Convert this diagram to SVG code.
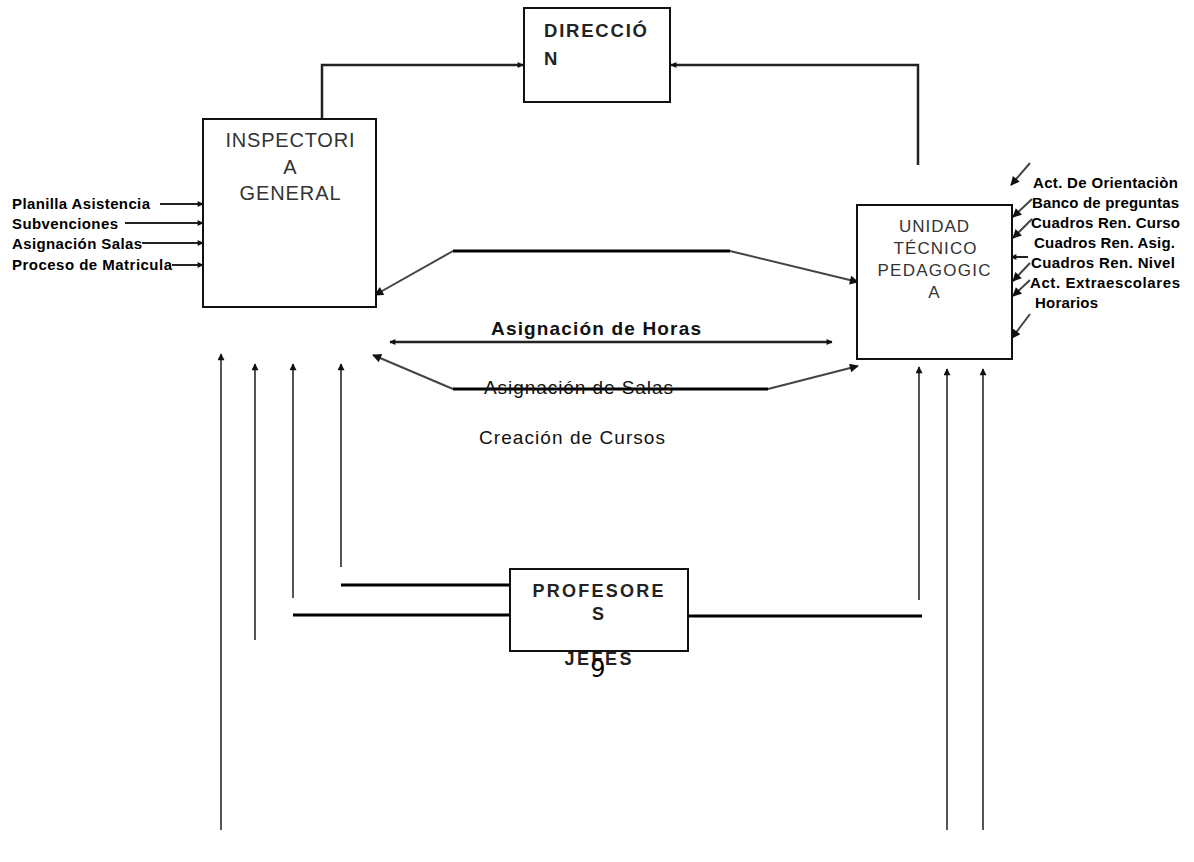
<svg xmlns="http://www.w3.org/2000/svg" width="1194" height="862" viewBox="0 0 1194 862">
<style>
.box{fill:#fff;stroke:#111;stroke-width:2}
.lbl{font-family:"Liberation Sans",Arial,sans-serif;font-size:15px;font-weight:bold;fill:#000}
.nt{font-family:"Liberation Sans",Arial,sans-serif;fill:#333;text-anchor:middle}
.bt{font-family:"Liberation Sans",Arial,sans-serif;font-weight:bold;fill:#222}
.mid{font-family:"Liberation Sans",Arial,sans-serif;font-size:19px;fill:#111}
.thk{fill:none;stroke:#000;stroke-width:3}
.dg{fill:none;stroke:#444;stroke-width:2}
.top{fill:none;stroke:#222;stroke-width:2.5}
.vt{fill:none;stroke:#555;stroke-width:2}
.sm{fill:none;stroke:#222;stroke-width:2}
</style>
<defs>
<marker id="ah" viewBox="0 0 10 10" refX="9" refY="5" markerWidth="11" markerHeight="9" markerUnits="userSpaceOnUse" orient="auto"><path d="M0,0 L10,5 L0,10 z" fill="#111"/></marker>
<marker id="sa" viewBox="0 0 10 10" refX="9" refY="5" markerWidth="8" markerHeight="6" markerUnits="userSpaceOnUse" orient="auto"><path d="M0,0 L10,5 L0,10 z" fill="#111"/></marker>
<marker id="va" viewBox="0 0 10 10" refX="9" refY="5" markerWidth="11" markerHeight="7" markerUnits="userSpaceOnUse" orient="auto"><path d="M0,0 L10,5 L0,10 z" fill="#111"/></marker>
</defs>

<g id="connectors">
<path class="top" d="M322,118 V65 H523" marker-end="url(#sa)"/>
<path class="top" d="M918,165 V65 H671" marker-end="url(#sa)"/>
<path class="sm" d="M160,204 H203" marker-end="url(#sa)"/>
<path class="sm" d="M125,223 H203" marker-end="url(#sa)"/>
<path class="sm" d="M142,243 H203" marker-end="url(#sa)"/>
<path class="sm" d="M172,265 H203" marker-end="url(#sa)"/>
<path class="dg" d="M1030,163 L1011,185" marker-end="url(#ah)"/>
<path class="dg" d="M1032,199 L1013,217" marker-end="url(#ah)"/>
<path class="dg" d="M1032,219 L1013,238" marker-end="url(#ah)"/>
<path class="sm" d="M1028,257 H1011" marker-end="url(#sa)"/>
<path class="dg" d="M1030,263 L1013,281" marker-end="url(#ah)"/>
<path class="dg" d="M1030,280 L1013,296" marker-end="url(#ah)"/>
<path class="dg" d="M1030,314 L1012,338" marker-end="url(#ah)"/>
<path class="thk" d="M453,251 H730"/>
<path class="dg" d="M453,251 L375,295" marker-end="url(#ah)"/>
<path class="dg" d="M730,251 L858,282" marker-end="url(#ah)"/>
<path class="top" d="M612,342 H832" marker-end="url(#sa)"/>
<path class="top" d="M612,342 H390" marker-end="url(#sa)"/>
<path class="thk" d="M453,389 H768"/>
<path class="dg" d="M453,389 L373,355" marker-end="url(#ah)"/>
<path class="dg" d="M768,389 L858,366" marker-end="url(#ah)"/>
<path class="vt" d="M221,830 V354" marker-end="url(#va)"/>
<path class="vt" d="M255,640 V364" marker-end="url(#va)"/>
<path class="vt" d="M293,598 V364" marker-end="url(#va)"/>
<path class="vt" d="M341,567 V364" marker-end="url(#va)"/>
<path class="thk" d="M341,585 H510"/>
<path class="thk" d="M293,615 H510"/>
<path class="vt" d="M919,600 V367" marker-end="url(#va)"/>
<path class="vt" d="M947,830 V369" marker-end="url(#va)"/>
<path class="vt" d="M983,830 V369" marker-end="url(#va)"/>
<path class="thk" d="M688,616 H922"/>
</g>

<g id="direccion">
<rect class="box" x="524" y="8" width="146" height="94"/>
<text class="bt" font-size="18.5" x="544" y="37" textLength="103" lengthAdjust="spacing">DIRECCIÓ</text>
<text class="bt" font-size="18.5" x="544" y="65">N</text>
</g>

<g id="inspectoria">
<rect class="box" x="203" y="119" width="173" height="188"/>
<text class="nt" font-size="20" x="290" y="147" textLength="129" lengthAdjust="spacing">INSPECTORI</text>
<text class="nt" font-size="20" x="290" y="174">A</text>
<text class="nt" font-size="20" x="290" y="200" textLength="101" lengthAdjust="spacing">GENERAL</text>
</g>

<g id="utp">
<rect class="box" x="857" y="205" width="155" height="154"/>
<text class="nt" font-size="17" x="934" y="232" textLength="70" lengthAdjust="spacing">UNIDAD</text>
<text class="nt" font-size="17" x="935" y="254" textLength="83" lengthAdjust="spacing">TÉCNICO</text>
<text class="nt" font-size="17" x="934" y="276" textLength="113" lengthAdjust="spacing">PEDAGOGIC</text>
<text class="nt" font-size="17" x="934" y="298">A</text>
</g>

<g id="profesores">
<rect class="box" x="510" y="569" width="178" height="82"/>
<text class="bt" font-size="18" x="598" y="597" text-anchor="middle" textLength="131" lengthAdjust="spacing">PROFESORE</text>
<text class="bt" font-size="18" x="598" y="620" text-anchor="middle">S</text>
<text class="bt" font-size="18" x="598" y="665" text-anchor="middle" textLength="67" lengthAdjust="spacing">JEFES</text>
<text x="598" y="677" text-anchor="middle" font-family="DejaVu Sans,sans-serif" font-size="24" fill="#000">9</text>
</g>

<g id="left-labels">
<text class="lbl" x="12" y="209" textLength="138" lengthAdjust="spacing">Planilla Asistencia</text>
<text class="lbl" x="12" y="229" textLength="106" lengthAdjust="spacing">Subvenciones</text>
<text class="lbl" x="12" y="249" textLength="130" lengthAdjust="spacing">Asignación Salas</text>
<text class="lbl" x="12" y="270" textLength="160" lengthAdjust="spacing">Proceso de Matricula</text>
</g>

<g id="right-labels">
<text class="lbl" x="1033" y="188" textLength="145" lengthAdjust="spacing">Act. De Orientaciòn</text>
<text class="lbl" x="1032" y="208" textLength="147" lengthAdjust="spacing">Banco de preguntas</text>
<text class="lbl" x="1031" y="228" textLength="149" lengthAdjust="spacing">Cuadros Ren. Curso</text>
<text class="lbl" x="1034" y="248" textLength="141" lengthAdjust="spacing">Cuadros Ren. Asig.</text>
<text class="lbl" x="1031" y="268" textLength="144" lengthAdjust="spacing">Cuadros Ren. Nivel</text>
<text class="lbl" x="1030" y="288" textLength="150" lengthAdjust="spacing">Act. Extraescolares</text>
<text class="lbl" x="1035" y="308" textLength="63" lengthAdjust="spacing">Horarios</text>
</g>

<g id="middle-labels">
<text class="mid" font-weight="bold" x="491" y="335" textLength="210" lengthAdjust="spacing">Asignación de Horas</text>
<text class="mid" x="484" y="394" textLength="189" lengthAdjust="spacing">Asignación de Salas</text>
<text class="mid" x="479" y="444" textLength="186" lengthAdjust="spacing">Creación de Cursos</text>
</g>
</svg>
